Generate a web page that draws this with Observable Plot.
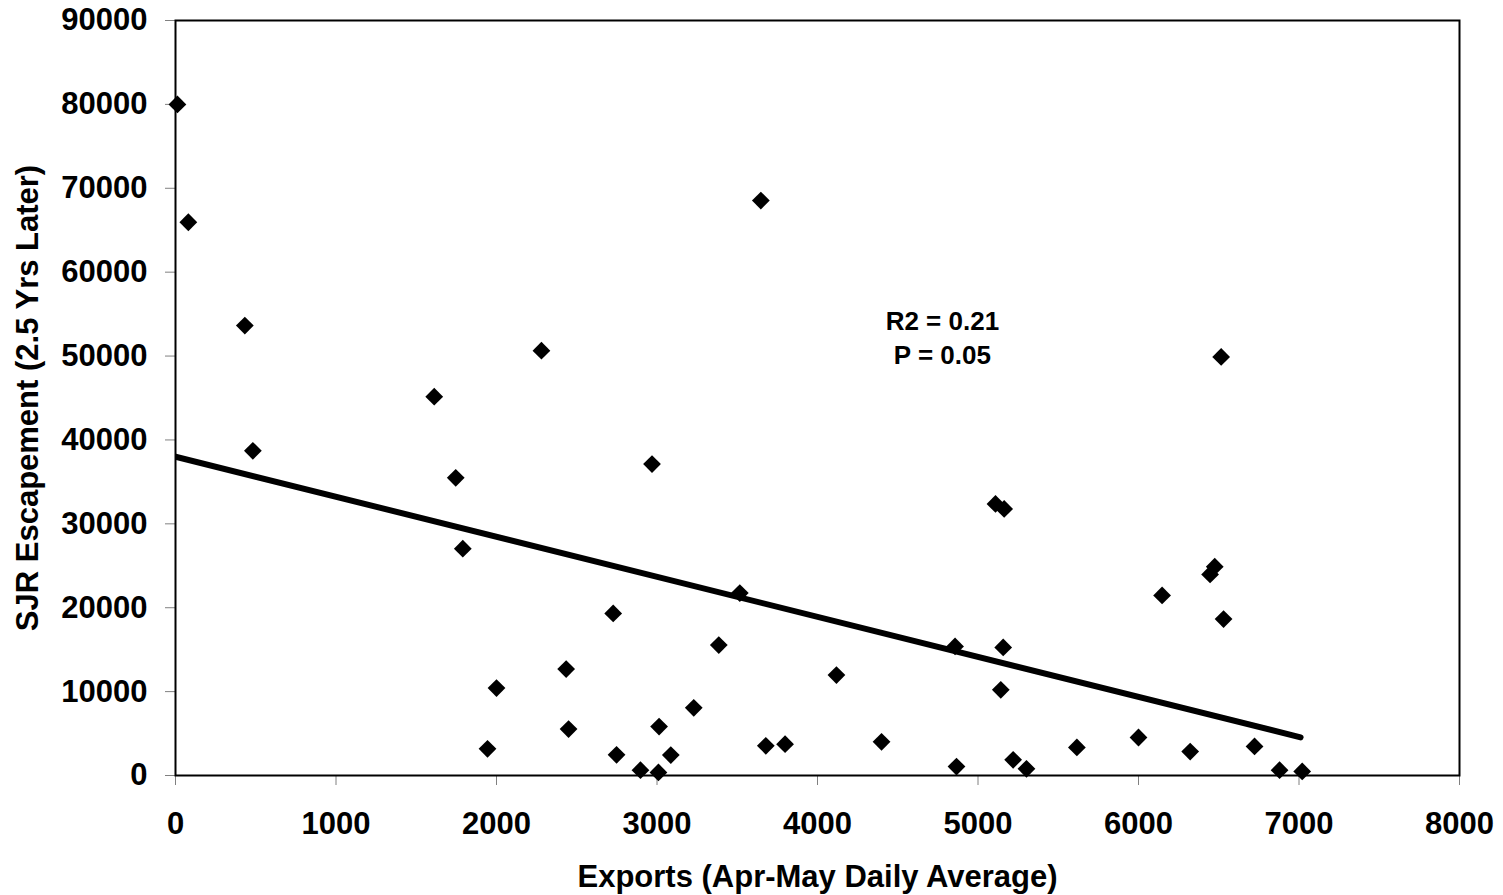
<!DOCTYPE html>
<html>
<head>
<meta charset="utf-8">
<script src="https://cdn.jsdelivr.net/npm/d3@7"></script>
<script src="https://cdn.jsdelivr.net/npm/@observablehq/plot@0.6"></script>
<style>
html, body { margin: 0; padding: 0; background: #fff; }
</style>
</head>
<body>
<div id="chart"></div>
<script>
// Exports (Apr-May daily average) for each year
const exportsX = [12, 80, 432, 482, 1612, 1746, 1790, 1944, 2000, 2280,
  2969, 2727, 2434, 2449, 2748, 2897, 3009, 3013, 3086, 3229,
  3385, 3516, 3647, 3678, 3798, 4118, 4399, 4866, 4857, 5109,
  5163, 5157, 5142, 5219, 5302, 5616, 6000, 6147, 6475, 6446,
  6530, 6322, 6723, 6879, 7020, 6515];
// SJR escapement 2.5 years later
const escapementY = [80000, 65950, 53630, 38700, 45160, 35480, 27040, 3180, 10420, 50640,
  37130, 19320, 12690, 5530, 2470, 640, 360, 5840, 2430, 8070,
  15550, 21750, 68540, 3540, 3740, 11970, 4020, 1070, 15390, 32370,
  31770, 15270, 10220, 1870, 800, 3340, 4530, 21470, 24890, 23970,
  18650, 2860, 3460, 640, 480, 49900];
// Fitted trend line end points
const trendX = [0, 7010];
const trendY = [38000, 4550];
// Tick values
const xTicks = [0, 1000, 2000, 3000, 4000, 5000, 6000, 7000, 8000];
const yTicks = [0, 10000, 20000, 30000, 40000, 50000, 60000, 70000, 80000, 90000];
// Annotation
const annText = ["R2 = 0.21", "P = 0.05"];
const annX = [4778, 4778];
const annY = [54100, 50050];
const xLabel = "Exports (Apr-May Daily Average)";
const yLabel = "SJR Escapement (2.5 Yrs Later)";

const points = exportsX.map((x, i) => ({x, y: escapementY[i]}));
const trend = trendX.map((x, i) => ({x, y: trendY[i]}));
const ann = annText.map((t, i) => ({x: annX[i], y: annY[i], t}));

const font = "'Liberation Sans', Arial, Helvetica, sans-serif";

const chart = Plot.plot({
  width: 1503,
  height: 895,
  marginLeft: 175,
  marginRight: 44,
  marginTop: 20,
  marginBottom: 120,
  style: {fontFamily: font, fontWeight: "bold", fontSize: "31px", color: "black", background: "white", overflow: "visible"},
  x: {domain: [0, 8000]},
  y: {domain: [0, 90000]},
  marks: [
    Plot.axisX({ticks: xTicks, tickSize: 10, tickPadding: 26, stroke: "#808080", fill: "black",
      tickFormat: d3.format("d"), label: null, fontSize: 31, fontWeight: "bold", fontFamily: font}),
    Plot.axisY({ticks: yTicks, tickSize: 10, tickPadding: 18, stroke: "#808080", fill: "black",
      tickFormat: d3.format("d"), label: null, fontSize: 31, fontWeight: "bold", fontFamily: font}),
    Plot.line(trend, {x: "x", y: "y", stroke: "black", strokeWidth: 6, strokeLinecap: "round", clip: "frame"}),
    Plot.dot(points, {x: "x", y: "y", symbol: "diamond2", r: 8, fill: "black", stroke: "none"}),
    Plot.text(ann, {x: "x", y: "y", text: "t", fontSize: 26, fontWeight: "bold", fontFamily: font, fill: "black"}),
    Plot.frame({stroke: "black", strokeWidth: 2}),
    Plot.text([xLabel], {text: d => d, frameAnchor: "bottom", dy: 102, textAnchor: "middle", lineAnchor: "middle",
      fontSize: 31, fontWeight: "bold", fontFamily: font, fill: "black"}),
    Plot.text([yLabel], {text: d => d, frameAnchor: "left", dx: -147, rotate: -90, textAnchor: "middle", lineAnchor: "middle",
      fontSize: 31, fontWeight: "bold", fontFamily: font, fill: "black"})
  ]
});
document.getElementById("chart").appendChild(chart);
</script>
</body>
</html>
